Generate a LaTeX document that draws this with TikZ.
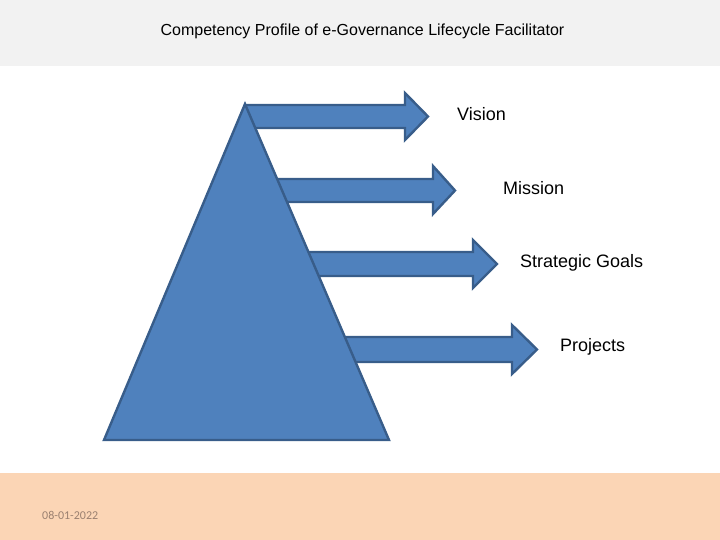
\documentclass[tikz,border=0pt]{standalone}
\usepackage{fontspec}
\setmainfont{Liberation Sans}
\newfontfamily\datefont{Carlito}
\definecolor{hdr}{HTML}{F2F2F2}
\definecolor{ftr}{HTML}{FBD5B5}
\definecolor{shapefill}{HTML}{4F81BD}
\definecolor{shapeline}{HTML}{385D8A}
\definecolor{datecol}{HTML}{9A8070}
\tikzset{
  shp/.style={fill=shapefill, draw=shapeline, line width=2.4pt, line join=miter},
  lbl/.style={inner sep=0pt, anchor=west, font=\fontsize{18}{21}\selectfont},
}
\begin{document}
\begin{tikzpicture}[x=1pt,y=-1pt]
\useasboundingbox (0,0) rectangle (720,540);
\fill[hdr] (0,0) rectangle (720,66);
\fill[ftr] (0,473) rectangle (720,540);
\node[font=\fontsize{16}{19}\selectfont, inner sep=0pt] (title) at (362.5,31) {Competency Profile of e-Governance Lifecycle Facilitator};
\node[font=\datefont\fontsize{12}{14}\selectfont, text=datecol, inner sep=0pt, anchor=west] (date) at (42,515) {08-01-2022};
% arrows
\draw[shp] (245,105) -- (405,105) -- (405,93) -- (428,116.5) -- (405,140) -- (405,128) -- (245,128) -- cycle;
\draw[shp] (260,179) -- (433,179) -- (433,166) -- (455,190.5) -- (433,214) -- (433,202) -- (260,202) -- cycle;
\draw[shp] (290,252) -- (473,252) -- (473,240) -- (497,264) -- (473,288) -- (473,276) -- (290,276) -- cycle;
\draw[shp] (325,337) -- (512,337) -- (512,325) -- (537,349.5) -- (512,374) -- (512,362) -- (325,362) -- cycle;
% triangle
\draw[shp] (245,104) -- (389,440) -- (104,440) -- cycle;
% labels
\node[lbl] (vision) at (457,114.5) {Vision};
\node[lbl] (mission) at (503,188.5) {Mission};
\node[lbl] (goals) at (520,262.5) {Strategic Goals};
\node[lbl] (projects) at (560,347) {Projects};
\end{tikzpicture}
\end{document}
